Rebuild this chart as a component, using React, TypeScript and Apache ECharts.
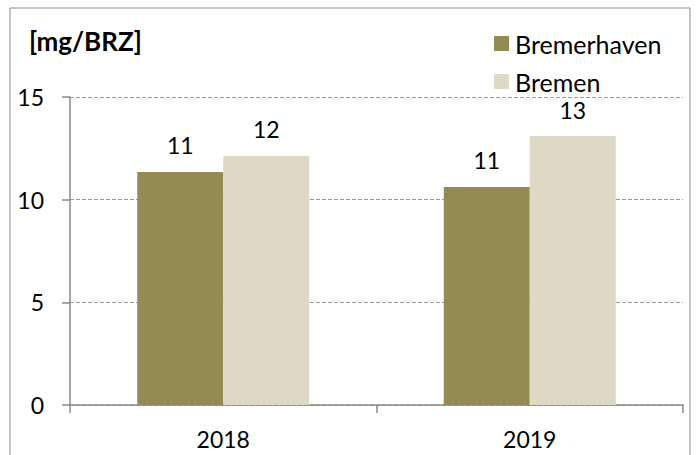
import React, { useEffect, useRef } from "react";
import * as echarts from "echarts";

const categories = ["2018", "2019"];
const bremerhaven = [11.35, 10.62];
const bremen = [12.13, 13.1];
const yTicks = [0, 5, 10, 15];

const FONT = "Lato, 'Open Sans', sans-serif";
const FS_NUM = 23;
const FS_TEXT = 25;

export default function App() {
  const ref = useRef<HTMLDivElement>(null);
  useEffect(() => {
    const chart = echarts.init(ref.current!, undefined, { renderer: "svg" });
    const label = {
      show: true,
      position: "top",
      distance: 15,
      fontFamily: FONT,
      fontSize: FS_NUM,
      lineHeight: 23,
      color: "#000",
      formatter: (p: any) => Math.round(p.value).toString(),
    };
    chart.setOption({
      animation: false,
      backgroundColor: "#ffffff",
      textStyle: { fontFamily: FONT },
      graphic: [
        {
          type: "rect",
          shape: { x: 10, y: 8, width: 680, height: 460 },
          style: { fill: "none", stroke: "#8c8c8c", lineWidth: 1 },
          silent: true,
        },
        {
          type: "text",
          left: 29,
          top: 28,
          style: { text: "[mg/BRZ]", fontFamily: FONT, fontWeight: "bold", fontSize: 26, fill: "#000" },
        },
      ],
      legend: {
        orient: "vertical",
        left: 489,
        top: 26,
        itemWidth: 15,
        itemHeight: 15,
        itemGap: 13,
        icon: "rect",
        textStyle: { fontFamily: FONT, fontSize: FS_TEXT, lineHeight: 24, color: "#000", padding: [0, 0, 0, 1] },
        data: ["Bremerhaven", "Bremen"],
      },
      grid: { left: 70, right: 17, top: 97, bottom: 50 },
      xAxis: {
        type: "category",
        data: categories,
        boundaryGap: true,
        axisLine: { lineStyle: { color: "#888", width: 1.5 } },
        axisTick: { show: true, length: 8, lineStyle: { color: "#888", width: 1.5 } },
        axisLabel: { fontFamily: FONT, fontSize: FS_NUM, color: "#000", margin: 22 },
      },
      yAxis: {
        type: "value",
        min: yTicks[0],
        max: yTicks[yTicks.length - 1],
        interval: 5,
        axisLine: { show: true, lineStyle: { color: "#888", width: 1.5 } },
        axisTick: { show: true, length: 8, lineStyle: { color: "#888", width: 1.5 } },
        axisLabel: { fontFamily: FONT, fontSize: FS_NUM, color: "#000", margin: 26 },
        splitLine: { show: true, lineStyle: { color: "#999", type: [4, 2], width: 1 } },
      },
      series: [
        {
          name: "Bremerhaven",
          type: "bar",
          data: bremerhaven,
          barWidth: 86,
          barGap: "0%",
          itemStyle: { color: "#948A54" },
          label,
        },
        {
          name: "Bremen",
          type: "bar",
          data: bremen,
          barWidth: 86,
          barGap: "0%",
          itemStyle: { color: "#DDD9C4" },
          label,
        },
      ],
    });
    return () => chart.dispose();
  }, []);
  return <div ref={ref} style={{ width: 700, height: 455, position: "absolute", left: 0, top: 0 }} />;
}
